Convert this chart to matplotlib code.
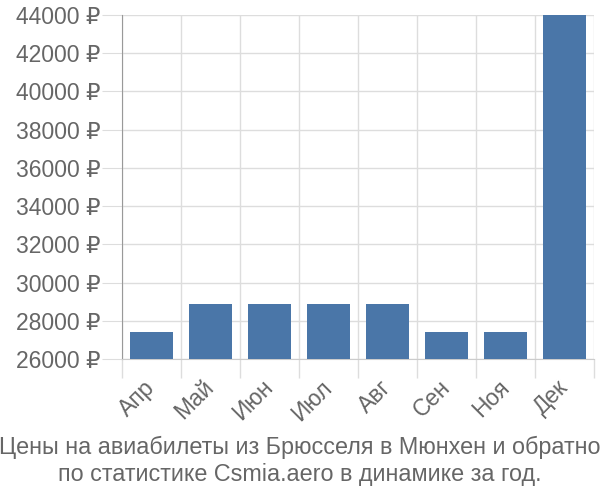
import numpy as np
import matplotlib
matplotlib.use("Agg")
import matplotlib.pyplot as plt

# === DATA ===
months = ["Апр", "Май", "Июн", "Июл", "Авг", "Сен", "Ноя", "Дек"]
prices = [27400, 28900, 28900, 28900, 28900, 27400, 27400, 44000]
y_ticks = list(range(26000, 44001, 2000))
title = "Цены на авиабилеты из Брюсселя в Мюнхен и обратно\nпо статистике Csmia.aero в динамике за год."

plt.rcParams['font.family'] = ['Liberation Sans', 'DejaVu Sans']

fig = plt.figure(figsize=(6, 5), dpi=100)
ax = fig.add_axes([0.2033, 0.282, 0.7867, 0.688])

x = np.arange(len(months))
ax.bar(x, prices, width=0.72, color="#4a76a8", zorder=3)

ax.set_xlim(-0.5, len(months) - 0.5)
ax.set_ylim(26000, 44000)

# y axis (tick lengths in points: 20px ~ 14.4pt at 100 dpi)
ax.set_yticks(y_ticks)
ax.set_yticklabels([f"{v} ₽" for v in y_ticks])
ax.tick_params(axis="y", length=14.4, color="#dddddd", labelsize=16.5,
               labelcolor="#666666", pad=1)
ax.yaxis.grid(True, color="#dddddd", linewidth=1, zorder=0)

# x axis: labels in the middle, grid at category borders
ax.set_xticks(x)
ax.set_xticklabels(months, rotation=45, ha="right", va="center",
                   rotation_mode="anchor")
ax.tick_params(axis="x", which="major", length=0, labelsize=16.5,
               labelcolor="#666666", pad=18)
ax.set_xticks(np.arange(len(months) + 1) - 0.5, minor=True)
ax.tick_params(axis="x", which="minor", length=13.7, color="#dddddd", width=1)
ax.xaxis.grid(True, which="minor", color="#dddddd", linewidth=1, zorder=0)

for side in ["top", "right"]:
    ax.spines[side].set_visible(False)
ax.spines["left"].set_color("#999999")
ax.spines["bottom"].set_color("#cccccc")

fig.text(0.5, 0.078, title, ha="center", va="center", fontsize=16.8,
         color="#666666", linespacing=1.22)

fig.savefig("out.png", dpi=100)
